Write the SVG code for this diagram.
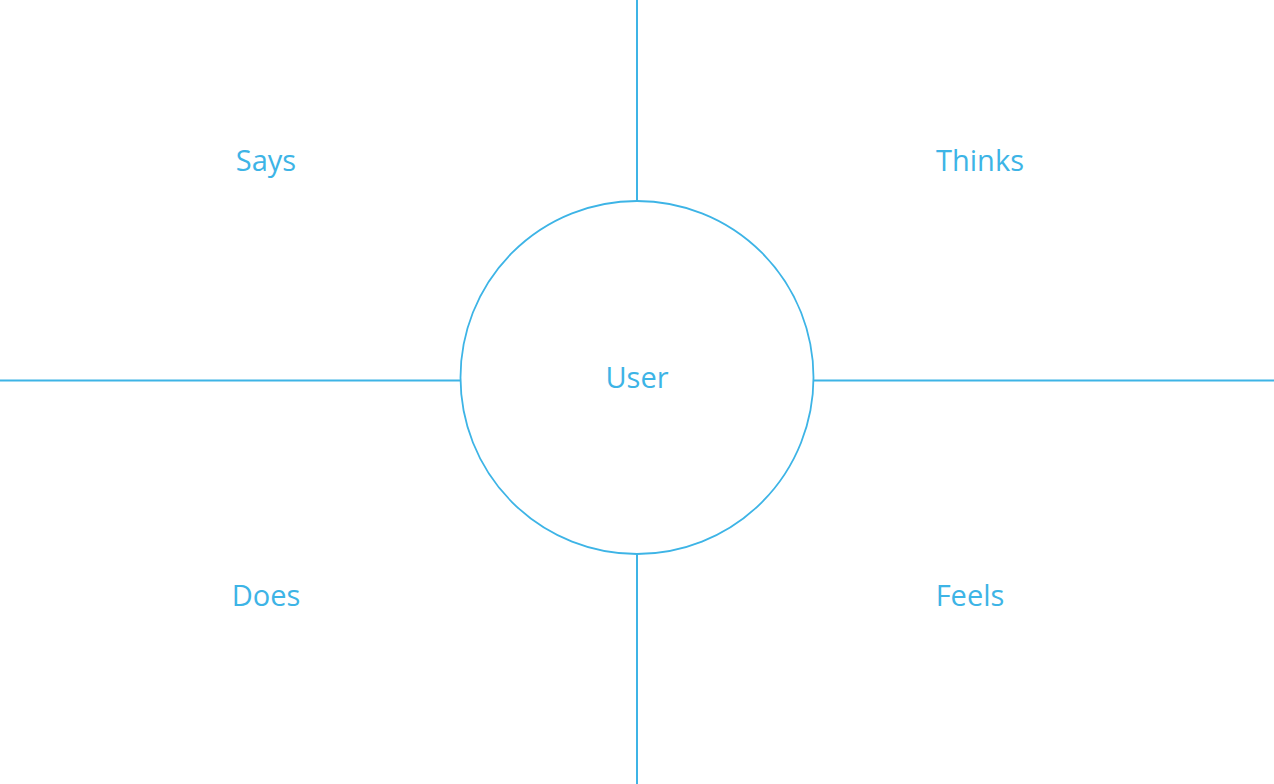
<svg xmlns="http://www.w3.org/2000/svg" width="1274" height="784" viewBox="0 0 1274 784">
<style>
.ln{stroke:#3db4e6;stroke-width:2;fill:none}
.lbl{font-family:"Open Sans","Noto Sans",sans-serif;font-size:29px;fill:#3db4e6;text-anchor:middle}
</style>
<rect width="1274" height="784" fill="#ffffff"/>
<g id="connectors">
<line class="ln" x1="637" y1="0" x2="637" y2="201"/>
<line class="ln" x1="637" y1="554" x2="637" y2="784"/>
<line class="ln" x1="0" y1="380.5" x2="460" y2="380.5"/>
<line class="ln" x1="814" y1="380.5" x2="1274" y2="380.5"/>
</g>
<g id="user"><circle cx="637" cy="377.5" r="176.5" fill="none" stroke="#3db4e6" stroke-width="1.8"/><text class="lbl" x="637" y="388">User</text></g>
<g id="says"><text class="lbl" x="266" y="171">Says</text></g>
<g id="thinks"><text class="lbl" x="980" y="171">Thinks</text></g>
<g id="does"><text class="lbl" x="266" y="606">Does</text></g>
<g id="feels"><text class="lbl" x="970" y="606">Feels</text></g>
</svg>
